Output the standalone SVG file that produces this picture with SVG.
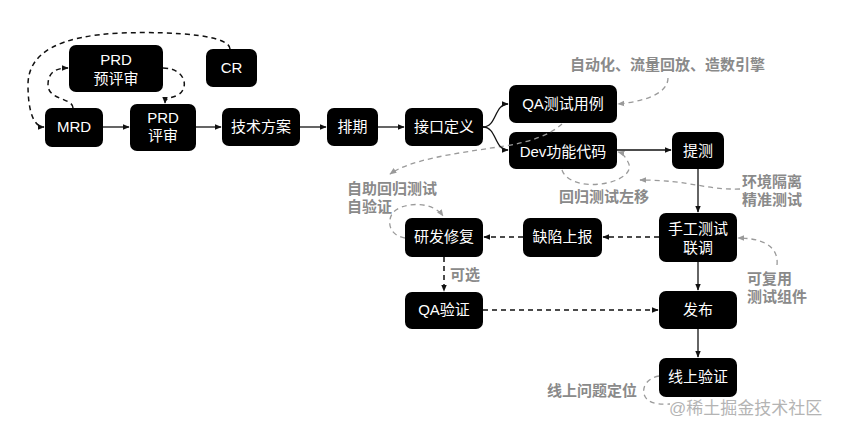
<svg xmlns="http://www.w3.org/2000/svg" width="841" height="433" viewBox="0 0 841 433">
<defs>
<style>
.n rect{fill:#000}
.n text{fill:#fff;font-family:"Liberation Sans","Noto Sans CJK SC",sans-serif;font-size:15px;text-anchor:middle}
.g{fill:#8a8a8a;font-family:"Liberation Sans","Noto Sans CJK SC",sans-serif;font-size:15px;font-weight:bold}
.s{fill:none;stroke:#111;stroke-width:1.3}
.d{fill:none;stroke:#111;stroke-width:1.5;stroke-dasharray:5 4}
.gd{fill:none;stroke:#9a9a9a;stroke-width:1.3;stroke-dasharray:5 4}
</style>
<marker id="a" viewBox="0 0 10 10" refX="9" refY="5" markerWidth="7" markerHeight="7" orient="auto-start-reverse" markerUnits="userSpaceOnUse"><path d="M0,1 L10,5 L0,9 z" fill="#111"/></marker>
<marker id="ag" viewBox="0 0 10 10" refX="9" refY="5" markerWidth="7" markerHeight="7" orient="auto-start-reverse" markerUnits="userSpaceOnUse"><path d="M0,1 L10,5 L0,9 z" fill="#9a9a9a"/></marker>
</defs>
<rect width="841" height="433" fill="#fff"/>

<g id="PRD-pre" class="n"><rect x="69" y="45" width="94" height="47" rx="7"/><text x="116" y="65">PRD</text><text x="116" y="84">预评审</text></g>
<g id="CR" class="n"><rect x="206" y="49" width="51" height="38" rx="7"/><text x="231.5" y="73">CR</text></g>
<g id="MRD" class="n"><rect x="45" y="108" width="58" height="39" rx="7"/><text x="74" y="132">MRD</text></g>
<g id="PRD" class="n"><rect x="130" y="104" width="66" height="47" rx="7"/><text x="163" y="123">PRD</text><text x="163" y="141">评审</text></g>
<g id="tech" class="n"><rect x="222" y="108" width="78" height="38" rx="7"/><text x="261" y="132">技术方案</text></g>
<g id="schedule" class="n"><rect x="327" y="108" width="51" height="38" rx="7"/><text x="352.5" y="132">排期</text></g>
<g id="api" class="n"><rect x="405" y="108" width="78" height="38" rx="7"/><text x="444" y="132">接口定义</text></g>
<g id="qa-case" class="n"><rect x="509" y="85" width="108" height="38" rx="7"/><text x="563" y="109">QA测试用例</text></g>
<g id="dev" class="n"><rect x="509" y="132" width="108" height="37" rx="7"/><text x="563" y="157">Dev功能代码</text></g>
<g id="submit" class="n"><rect x="672" y="132" width="52" height="37" rx="7"/><text x="698" y="156">提测</text></g>
<g id="manual" class="n"><rect x="659" y="213" width="78" height="49" rx="7"/><text x="698" y="234">手工测试</text><text x="698" y="253">联调</text></g>
<g id="bug" class="n"><rect x="523" y="218" width="79" height="39" rx="7"/><text x="562.5" y="242">缺陷上报</text></g>
<g id="fix" class="n"><rect x="405" y="218" width="78" height="39" rx="7"/><text x="444" y="242">研发修复</text></g>
<g id="qa-verify" class="n"><rect x="405" y="292" width="78" height="37" rx="7"/><text x="444" y="315">QA验证</text></g>
<g id="release" class="n"><rect x="659" y="291" width="78" height="38" rx="7"/><text x="698" y="315">发布</text></g>
<g id="online" class="n"><rect x="659" y="358" width="78" height="39" rx="7"/><text x="698" y="382">线上验证</text></g>

<g id="connectors">
<path class="gd" d="M562,124 C550,135 530,142 505,146 C450,154 410,160 390,174" marker-end="url(#ag)"/>
<path class="gd" d="M668,78 C668,95 640,102 618,104" marker-end="url(#ag)"/>
<path class="gd" d="M562,170 C566,182 585,186 600,184 C620,182 634,172 628,162 C625,156 622,153 618,152" marker-end="url(#ag)"/>
<path class="gd" d="M740,189 C705,190 690,180 640,180" marker-end="url(#ag)"/>
<path class="gd" d="M405,238 C392,236 386,225 392,214 C400,202 432,200 443,216" marker-end="url(#ag)"/>
<path class="gd" d="M777,265 C779,245 760,238 738,238" marker-end="url(#ag)"/>
<path class="gd" d="M659,376 C648,378 642,386 644,394 C646,402 655,405 670,404"/>
<path class="s" d="M103,127 H129" marker-end="url(#a)"/>
<path class="s" d="M196,127 H221" marker-end="url(#a)"/>
<path class="s" d="M300,127 H326" marker-end="url(#a)"/>
<path class="s" d="M378,127 H404" marker-end="url(#a)"/>
<path class="s" d="M483,127 C497,127 494,104 508,104" marker-end="url(#a)"/>
<path class="s" d="M483,127 C497,127 494,150 508,150" marker-end="url(#a)"/>
<path class="s" d="M617,150 H671" marker-end="url(#a)"/>
<path class="s" d="M698,169 V212" marker-end="url(#a)"/>
<path class="s" d="M698,262 V290" marker-end="url(#a)"/>
<path class="s" d="M698,329 V357" marker-end="url(#a)"/>
<path class="d" d="M73,108 C73,98 48,100 48,85 C48,72 56,68 68,68" marker-end="url(#a)"/>
<path class="d" d="M163,68 C185,68 190,88 178,95 C170,99 165,97 165,103" marker-end="url(#a)"/>
<path class="d" d="M230,49 C230,36 180,31 120,33 C60,36 28,52 28,85 C28,112 34,127 44,127" marker-end="url(#a)"/>
<path class="d" d="M659,237 H603" marker-end="url(#a)"/>
<path class="d" d="M523,237 H484" marker-end="url(#a)"/>
<path class="d" d="M444,257 V291" marker-end="url(#a)"/>
<path class="d" d="M483,310 H658" marker-end="url(#a)"/>
</g>

<g id="labels">
<text class="g" x="570" y="70">自动化、流量回放、造数引擎</text>
<text class="g" x="559" y="202">回归测试左移</text>
<text class="g" x="742" y="187">环境隔离</text>
<text class="g" x="742" y="205">精准测试</text>
<text class="g" x="347" y="194">自助回归测试</text>
<text class="g" x="347" y="212">自验证</text>
<text class="g" x="450" y="280">可选</text>
<text class="g" x="747" y="284">可复用</text>
<text class="g" x="747" y="302">测试组件</text>
<text class="g" x="547" y="396">线上问题定位</text>
<text x="669" y="414" style="fill:#b4b4b4;font-family:'Liberation Sans','Noto Sans CJK SC',sans-serif;font-size:17px">@稀土掘金技术社区</text>
</g>
</svg>
